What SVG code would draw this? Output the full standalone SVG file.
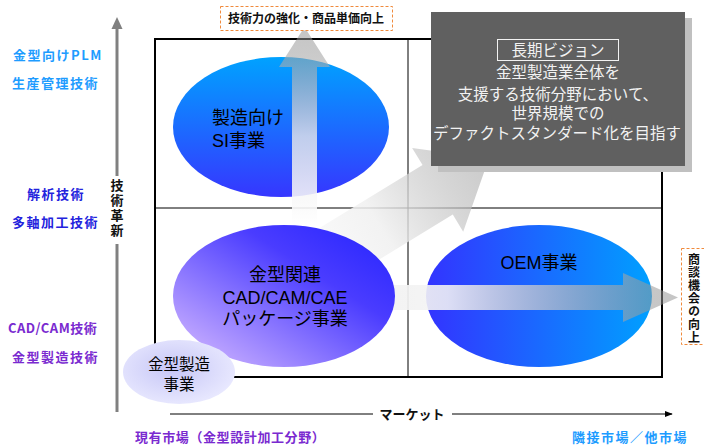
<svg xmlns="http://www.w3.org/2000/svg" width="704" height="447" viewBox="0 0 704 447">
<defs>
<style>
text{font-family:"Noto Sans CJK JP","Noto Sans",sans-serif;}
.tight{font-family:"Liberation Sans","Noto Sans CJK JP",sans-serif;}
.lbl{font-size:13px;font-weight:bold;letter-spacing:1.5px;}
.lb1{fill:#1e9cff;}
.lb2{fill:#2323dd;}
.lb3{fill:#7a2ad0;}
.big{font-size:18px;fill:#000;}
.vis{font-size:15.5px;fill:#f2f2f2;text-anchor:middle;}
.vert{writing-mode:vertical-rl;text-orientation:upright;font-weight:bold;fill:#111;}
.dash{fill:#fff;stroke:#f08a3c;stroke-width:1;stroke-dasharray:3 2;}
</style>
<linearGradient id="gSI" x1="0" y1="0" x2="0" y2="1">
<stop offset="0" stop-color="#00a2ff"/><stop offset="1" stop-color="#3636ff"/>
</linearGradient>
<linearGradient id="gOEM" x1="0" y1="0" x2="1" y2="0">
<stop offset="0" stop-color="#3333ff"/><stop offset="1" stop-color="#00a0ff"/>
</linearGradient>
<linearGradient id="gCAD" x1="1" y1="0" x2="0" y2="1">
<stop offset="0" stop-color="#2222ff"/><stop offset="0.35" stop-color="#4a3cff"/><stop offset="1" stop-color="#dcc0ff"/>
</linearGradient>
<radialGradient id="gMold" cx="0.45" cy="0.45" r="0.6">
<stop offset="0" stop-color="#c6c6f6"/><stop offset="1" stop-color="#eaeaff"/>
</radialGradient>
<linearGradient id="gUp" gradientUnits="userSpaceOnUse" x1="0" y1="225" x2="0" y2="27">
<stop offset="0" stop-color="#ffffff" stop-opacity="0.92"/><stop offset="0.45" stop-color="#e8e8e8" stop-opacity="0.8"/><stop offset="1" stop-color="#8c8c8c" stop-opacity="0.5"/>
</linearGradient>
<linearGradient id="gRight" gradientUnits="userSpaceOnUse" x1="390" y1="0" x2="678" y2="0">
<stop offset="0" stop-color="#f2f2f2" stop-opacity="0.95"/><stop offset="0.2" stop-color="#f4f4f4" stop-opacity="0.88"/><stop offset="1" stop-color="#8c8c8c" stop-opacity="0.5"/>
</linearGradient>
<linearGradient id="gDiag" gradientUnits="userSpaceOnUse" x1="0" y1="0" x2="233" y2="0">
<stop offset="0" stop-color="#ffffff" stop-opacity="0.9"/><stop offset="0.45" stop-color="#f0f0f0" stop-opacity="0.85"/><stop offset="1" stop-color="#a8a8a8" stop-opacity="0.6"/>
</linearGradient>
<marker id="mk" viewBox="0 0 10 10" refX="9" refY="5" markerWidth="8" markerHeight="8" orient="auto" markerUnits="userSpaceOnUse">
<path d="M0,1 L10,5 L0,9 Z" fill="#000"/>
</marker>
</defs>

<rect width="704" height="447" fill="#fff"/>

<g id="left-labels">
<text class="lbl lb1" x="13" y="60">金型向けPLM</text>
<text class="lbl lb1" x="12" y="88">生産管理技術</text>
<text class="lbl lb2" x="27" y="199">解析技術</text>
<text class="lbl lb2" x="12" y="227">多軸加工技術</text>
<text class="lbl lb3" x="8" y="333" style="letter-spacing:0.5px">CAD/CAM技術</text>
<text class="lbl lb3" x="12" y="362">金型製造技術</text>
</g>

<g id="axes">
<line x1="117" y1="27" x2="117" y2="176" stroke="#808080" stroke-width="3"/>
<polygon points="117,17 111.5,29 122.5,29" fill="#808080"/>
<line x1="117" y1="244" x2="117" y2="412" stroke="#808080" stroke-width="3"/>
<text class="vert" x="117" y="179" font-size="13" style="letter-spacing:2px">技術革新</text>
<line x1="170" y1="414" x2="373" y2="414" stroke="#000" stroke-width="1"/>
<line x1="452" y1="414" x2="672" y2="414" stroke="#000" stroke-width="1" marker-end="url(#mk)"/>
<text x="412" y="419" font-size="13" font-weight="bold" text-anchor="middle" fill="#111">マーケット</text>
<text x="135" y="442" class="lbl lb3" style="letter-spacing:0.6px">現有市場（金型設計加工分野）</text>
<text x="572" y="442" class="lbl lb1">隣接市場／他市場</text>
</g>

<g id="grid">
<line x1="408" y1="39" x2="408" y2="377" stroke="#000" stroke-width="1"/>
<line x1="155" y1="208" x2="662" y2="208" stroke="#000" stroke-width="1"/>
<rect x="155" y="39" width="507" height="338" fill="none" stroke="#000" stroke-width="2"/>
</g>

<g id="node-si">
<ellipse cx="281" cy="127" rx="108" ry="70" fill="url(#gSI)"/>
</g>
<g id="node-oem">
<ellipse cx="539" cy="296" rx="113" ry="71" fill="url(#gOEM)"/>
</g>

<g id="connectors">
<polygon points="292,225 292,67 279,67 304.5,27 330,67 317,67 317,225" fill="url(#gUp)"/>
<g transform="translate(290,280) rotate(-31.4)">
<polygon points="0,-29 173,-29 173,-49 233,0 173,49 173,29 0,29" fill="url(#gDiag)"/>
</g>
<polygon points="390,285 623,285 623,273 678,297.5 623,322 623,310 390,310" fill="url(#gRight)"/>
</g>

<g id="node-cad">
<ellipse cx="284" cy="296" rx="111" ry="71" fill="url(#gCAD)"/>
<text class="big tight" text-anchor="middle" font-size="18.5"><tspan x="285" y="281">金型関連</tspan><tspan x="285" y="304">CAD/CAM/CAE</tspan><tspan x="285" y="325">パッケージ事業</tspan></text>
</g>

<g id="node-mold">
<ellipse cx="179" cy="372" rx="56" ry="32" fill="url(#gMold)"/>
<text class="tight" font-size="15.5" text-anchor="middle" fill="#000"><tspan x="179" y="370">金型製造</tspan><tspan x="179" y="390">事業</tspan></text>
</g>

<g id="node-si-label">
<text class="big tight"><tspan x="212" y="124">製造向け</tspan><tspan x="212" y="147">SI事業</tspan></text>
</g>
<g id="node-oem-label">
<text class="big tight" x="539" y="269" text-anchor="middle" font-size="18.5">OEM事業</text>
</g>

<g id="note-top">
<rect class="dash" x="220.5" y="6.5" width="172" height="24"/>
<text x="306" y="23" font-size="12" font-weight="bold" text-anchor="middle" fill="#111">技術力の強化・商品単価向上</text>
</g>

<g id="note-right">
<rect class="dash" x="681.5" y="248.5" width="30" height="96"/>
<text class="vert" x="694" y="253" font-size="12" style="letter-spacing:1px">商談機会の向上</text>
</g>

<g id="vision">
<rect x="438" y="18" width="254" height="154" fill="#c0c0c0"/>
<rect x="431" y="12" width="254" height="154" fill="#606060"/>
<rect x="497.5" y="39.5" width="121" height="21" fill="none" stroke="#f2f2f2" stroke-width="1"/>
<text class="vis" x="558" y="56" font-size="17">長期ビジョン</text>
<text class="vis tight"><tspan x="558" y="78">金型製造業全体を</tspan><tspan x="558" y="100">支援する技術分野において、</tspan><tspan x="558" y="119">世界規模での</tspan><tspan x="557" y="139">デファクトスタンダード化を目指す</tspan></text>
</g>
</svg>
